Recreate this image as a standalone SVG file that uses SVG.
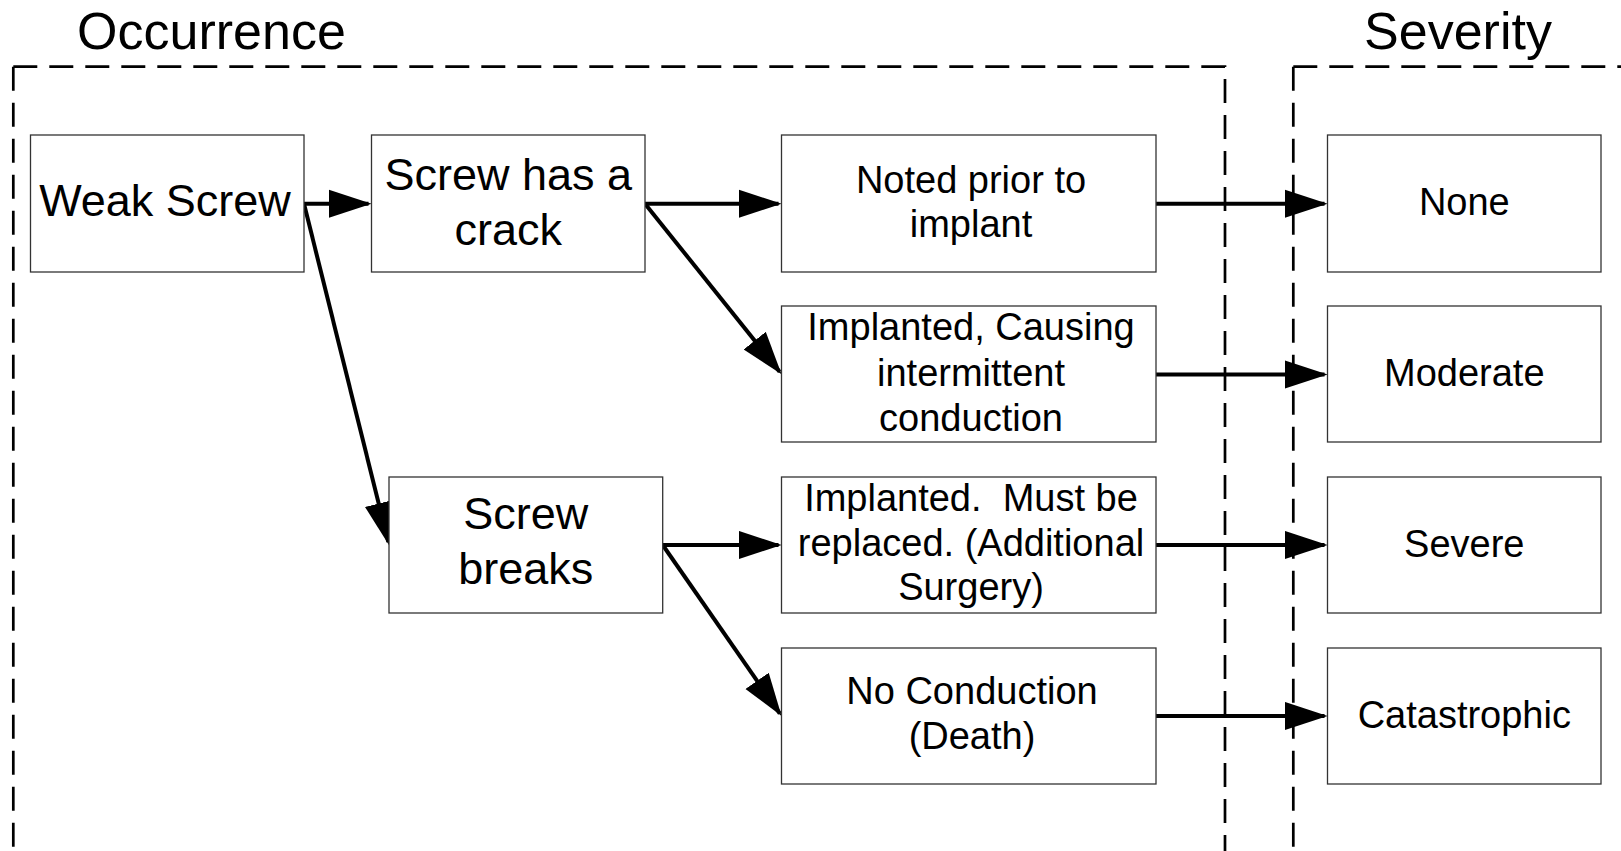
<svg xmlns="http://www.w3.org/2000/svg" width="1621" height="851" viewBox="0 0 1621 851">
<style>
  .bg { fill: #ffffff; }
  .frame { fill: none; stroke: #000; stroke-width: 2.7; stroke-dasharray: 24 12; }
  .node rect { fill: #fff; stroke: #333; stroke-width: 1.3; }
  text { font-family: "Liberation Sans", Arial, Helvetica, sans-serif; fill: #000; text-anchor: middle; white-space: pre; }
  .title { font-size: 52px; }
  .big { font-size: 45px; }
  .med { font-size: 38px; }
  .conn line { stroke: #000; stroke-width: 4; fill: none; marker-end: url(#arrow); }
</style>
<defs>
  <marker id="arrow" markerUnits="userSpaceOnUse" markerWidth="44" markerHeight="30" viewBox="0 0 42 28" refX="38" refY="13.5" orient="auto">
    <path d="M0,0 L41,13.5 L0,27 Z" fill="#000"/>
  </marker>
</defs>
<rect class="bg" x="0" y="0" width="1621" height="851"/>

<g id="frames">
  <path class="frame" d="M13.3,66.7 H1225 V851"/>
  <path class="frame" d="M13.3,66.7 V851"/>
  <path class="frame" d="M1293.3,66.7 H1621"/>
  <path class="frame" d="M1293.3,66.7 V851"/>
  <text class="title" x="211.5" y="48.5">Occurrence</text>
  <text class="title" x="1458" y="48.5">Severity</text>
</g>

<g id="connectors" class="conn">
  <line x1="304" y1="203.7" x2="368.5" y2="203.7"/>
  <line x1="304" y1="203.7" x2="388.3" y2="542.1"/>
  <line x1="645" y1="203.7" x2="778.5" y2="203.7"/>
  <line x1="645" y1="203.7" x2="779.6" y2="371.7"/>
  <line x1="662.7" y1="545" x2="778.5" y2="545"/>
  <line x1="662.7" y1="545" x2="779.8" y2="713.5"/>
  <line x1="1156" y1="203.7" x2="1324.5" y2="203.7"/>
  <line x1="1156" y1="374.5" x2="1324.5" y2="374.5"/>
  <line x1="1156" y1="545" x2="1324.5" y2="545"/>
  <line x1="1156" y1="716" x2="1324.5" y2="716"/>
</g>

<g id="weak-screw" class="node">
  <rect x="30.5" y="135" width="273.5" height="137"/>
  <text class="big" x="165" y="216">Weak Screw</text>
</g>
<g id="screw-crack" class="node">
  <rect x="371.5" y="135" width="273.5" height="137"/>
  <text class="big" x="508.3" y="190">Screw has a</text>
  <text class="big" x="508.3" y="245">crack</text>
</g>
<g id="screw-breaks" class="node">
  <rect x="389" y="477" width="273.7" height="136"/>
  <text class="big" x="525.7" y="529">Screw</text>
  <text class="big" x="525.7" y="583.6">breaks</text>
</g>
<g id="noted-prior" class="node">
  <rect x="781.5" y="135" width="374.5" height="137"/>
  <text class="med" x="971" y="192.7">Noted prior to</text>
  <text class="med" x="971" y="236.7">implant</text>
</g>
<g id="implanted-causing" class="node">
  <rect x="781.5" y="306" width="374.5" height="136"/>
  <text class="med" x="971" y="340">Implanted, Causing</text>
  <text class="med" x="971" y="385.5">intermittent</text>
  <text class="med" x="971" y="431">conduction</text>
</g>
<g id="implanted-replaced" class="node">
  <rect x="781.5" y="477" width="374.5" height="136"/>
  <text class="med" x="971" y="511">Implanted.  Must be</text>
  <text class="med" x="971" y="556">replaced. (Additional</text>
  <text class="med" x="971" y="600">Surgery)</text>
</g>
<g id="no-conduction" class="node">
  <rect x="781.5" y="648" width="374.5" height="136"/>
  <text class="med" x="972" y="703.6">No Conduction</text>
  <text class="med" x="972" y="749">(Death)</text>
</g>
<g id="sev-none" class="node">
  <rect x="1327.5" y="135" width="273.5" height="137"/>
  <text class="med" x="1464.3" y="215">None</text>
</g>
<g id="sev-moderate" class="node">
  <rect x="1327.5" y="306" width="273.5" height="136"/>
  <text class="med" x="1464.3" y="386">Moderate</text>
</g>
<g id="sev-severe" class="node">
  <rect x="1327.5" y="477" width="273.5" height="136"/>
  <text class="med" x="1464.3" y="557">Severe</text>
</g>
<g id="sev-catastrophic" class="node">
  <rect x="1327.5" y="648" width="273.5" height="136"/>
  <text class="med" x="1464.3" y="728">Catastrophic</text>
</g>
</svg>
